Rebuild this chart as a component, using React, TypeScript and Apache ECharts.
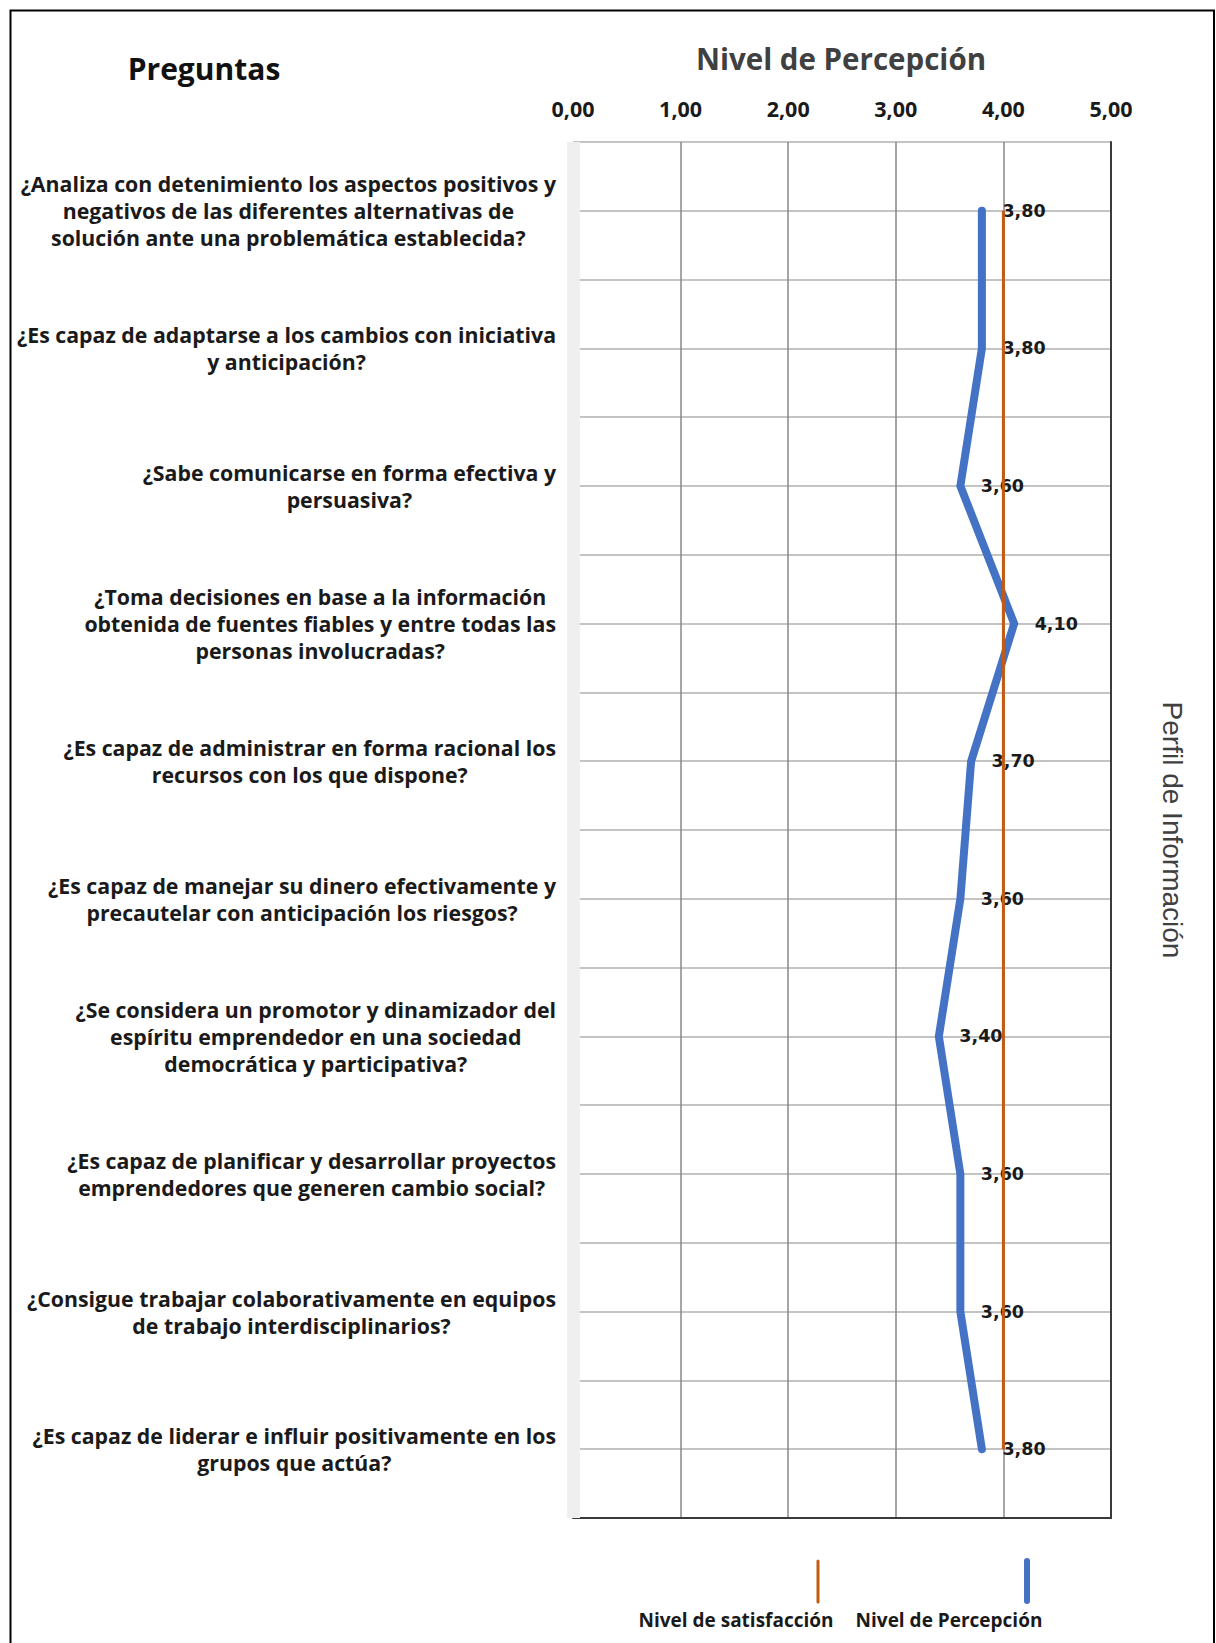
import React, { useEffect, useRef } from "react";
import * as echarts from "echarts";

const questions = [
  "¿Analiza con detenimiento los aspectos positivos y\nnegativos de las diferentes alternativas de\nsolución ante una problemática establecida?",
  "¿Es capaz de adaptarse a los cambios con iniciativa\ny anticipación?",
  "¿Sabe comunicarse en forma efectiva y\npersuasiva?",
  "¿Toma decisiones en base a la información\nobtenida de fuentes fiables y entre todas las\npersonas involucradas?",
  "¿Es capaz de administrar en forma racional los\nrecursos con los que dispone?",
  "¿Es capaz de manejar su dinero efectivamente y\nprecautelar con anticipación los riesgos?",
  "¿Se considera un promotor y dinamizador del\nespíritu emprendedor en una sociedad\ndemocrática y participativa?",
  "¿Es capaz de planificar y desarrollar proyectos\nemprendedores que generen cambio social?",
  "¿Consigue trabajar colaborativamente en equipos\nde trabajo interdisciplinarios?",
  "¿Es capaz de liderar e influir positivamente en los\ngrupos que actúa?",
];

const percepcion = [3.8, 3.8, 3.6, 4.1, 3.7, 3.6, 3.4, 3.6, 3.6, 3.8];
const satisfaccion = [4, 4, 4, 4, 4, 4, 4, 4, 4, 4];

const xMin = 0;
const xMax = 5;
const xInterval = 1;

const titleLeft = "Preguntas";
const titleTop = "Nivel de Percepción";
const titleRight = "Perfil de Información";
const legendSatisfaccion = "Nivel de satisfacción";
const legendPercepcion = "Nivel de Percepción";

const BLUE = "#4472C4";
const ORANGE = "#C55A11";

const fmt = (v: number) => v.toFixed(2).replace(".", ",");

export default function App() {
  const ref = useRef<HTMLDivElement>(null);

  useEffect(() => {
    if (!ref.current) return;
    const chart = echarts.init(ref.current, null, { renderer: "svg" });
    const halfRows = questions.flatMap((_, i) => ["a" + i, "b" + i]);
    const labelFont = "Open Sans";

    chart.setOption({
      animation: false,
      backgroundColor: "#ffffff",
      grid: { left: 573, top: 142, width: 538, height: 1376, containLabel: false },
      xAxis: [
        {
          type: "value",
          position: "top",
          min: xMin,
          max: xMax,
          interval: xInterval,
          axisLine: { show: false },
          axisTick: { show: false },
          axisLabel: {
            margin: 23,
            formatter: (v: number) => fmt(v),
            fontFamily: labelFont,
            fontWeight: "bold",
            fontSize: 21.5,
            color: "#1a1a1a",
          },
          splitLine: { show: true, lineStyle: { color: "#878787", width: 1.5 } },
        },
        {
          type: "value",
          position: "bottom",
          min: xMin,
          max: xMax,
          interval: xInterval,
          axisLine: { show: true, onZero: false, lineStyle: { color: "#3a3a3a", width: 2 } },
          axisTick: { show: false },
          axisLabel: { show: false },
          splitLine: { show: false },
        },
      ],
      yAxis: [
        {
          type: "category",
          data: questions,
          inverse: true,
          position: "left",
          axisLine: { show: true, onZero: false, lineStyle: { color: "#efefef", width: 13, cap: "butt" } },
          axisTick: { show: false },
          splitLine: { show: false },
          axisLabel: {
            interval: 0,
            align: "right",
            margin: 17,
            formatter: (v: string) =>
              v
                .split("\n")
                .map((l) => "{q|" + l + "}")
                .join("\n"),
            rich: {
              q: {
                align: "center",
                fontFamily: labelFont,
                fontWeight: "bold",
                fontSize: 21.3,
                lineHeight: 27,
                color: "#1a1a1a",
              },
            },
          },
          z: 1,
        },
        {
          type: "category",
          data: halfRows,
          inverse: true,
          position: "right",
          axisLine: { show: true, onZero: false, lineStyle: { color: "#3a3a3a", width: 2 } },
          axisTick: { show: false },
          axisLabel: { show: false },
          splitLine: { show: true, lineStyle: { color: "#b0b0b0", width: 1.5 } },
        },
      ],
      series: [
        {
          name: legendPercepcion,
          type: "line",
          xAxisIndex: 0,
          yAxisIndex: 0,
          data: percepcion,
          symbol: "circle",
          symbolSize: 1,
          showSymbol: true,
          itemStyle: { color: BLUE },
          lineStyle: { color: BLUE, width: 8, cap: "round", join: "miter" },
          label: {
            show: true,
            position: "right",
            distance: 20,
            formatter: (p: any) => fmt(p.value),
            fontFamily: "DejaVu Sans",
            fontWeight: "bold",
            fontSize: 17.5,
            color: "#1a1a1a",
          },
          z: 2,
        },
        {
          name: legendSatisfaccion,
          type: "line",
          xAxisIndex: 0,
          yAxisIndex: 0,
          data: satisfaccion,
          symbol: "none",
          lineStyle: { color: ORANGE, width: 3 },
          z: 3,
        },
      ],
      graphic: [
        {
          type: "rect",
          shape: { x: 10.5, y: 10.5, width: 1203.5, height: 1700 },
          style: { fill: "none", stroke: "#000000", lineWidth: 2 },
          silent: true,
        },
        {
          type: "text",
          x: 204,
          y: 68,
          style: {
            text: titleLeft,
            fontFamily: labelFont,
            fontWeight: "bold",
            fontSize: 30,
            fill: "#111111",
            textAlign: "center",
            textVerticalAlign: "middle",
          },
        },
        {
          type: "text",
          x: 841,
          y: 58,
          style: {
            text: titleTop,
            fontFamily: labelFont,
            fontWeight: "bold",
            fontSize: 29.5,
            fill: "#404040",
            textAlign: "center",
            textVerticalAlign: "middle",
          },
        },
        {
          type: "text",
          x: 1172,
          y: 830,
          rotation: -Math.PI / 2,
          style: {
            text: titleRight,
            fontFamily: "Liberation Sans",
            fontSize: 28,
            fill: "#404040",
            textAlign: "center",
            textVerticalAlign: "middle",
          },
        },
        {
          type: "line",
          shape: { x1: 818, y1: 1561, x2: 818, y2: 1602 },
          style: { stroke: ORANGE, lineWidth: 3, lineCap: "round" },
        },
        {
          type: "line",
          shape: { x1: 1027, y1: 1561, x2: 1027, y2: 1601 },
          style: { stroke: BLUE, lineWidth: 6, lineCap: "round" },
        },
        {
          type: "text",
          x: 736,
          y: 1620,
          style: {
            text: legendSatisfaccion,
            fontFamily: labelFont,
            fontWeight: "bold",
            fontSize: 19,
            fill: "#1a1a1a",
            textAlign: "center",
            textVerticalAlign: "middle",
          },
        },
        {
          type: "text",
          x: 949,
          y: 1620,
          style: {
            text: legendPercepcion,
            fontFamily: labelFont,
            fontWeight: "bold",
            fontSize: 19,
            fill: "#1a1a1a",
            textAlign: "center",
            textVerticalAlign: "middle",
          },
        },
      ],
    });

    return () => chart.dispose();
  }, []);

  return (
    <div
      ref={ref}
      style={{ position: "absolute", left: 0, top: 0, width: 1216, height: 1643, background: "#fff" }}
    />
  );
}
